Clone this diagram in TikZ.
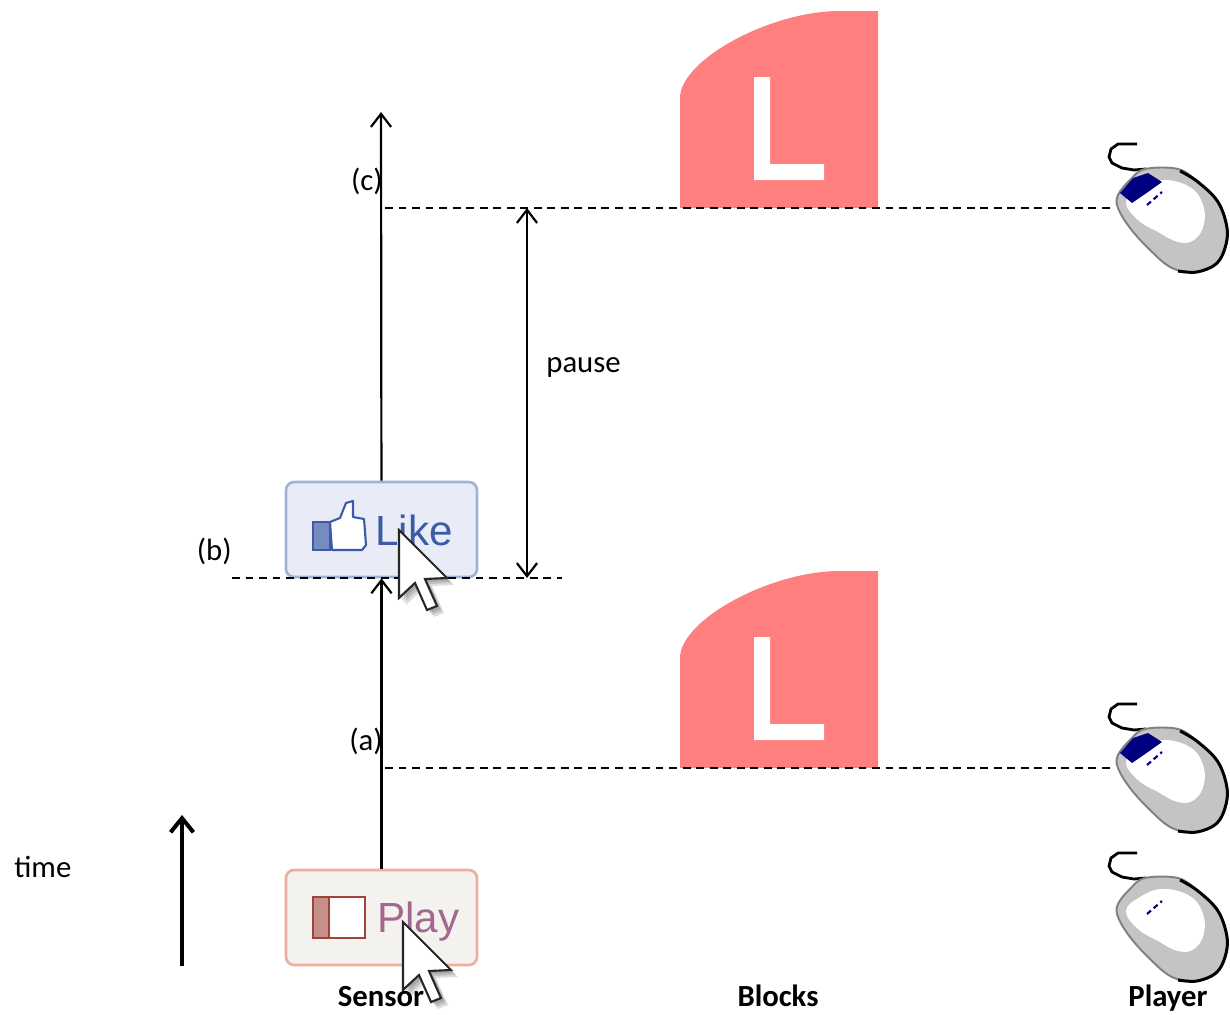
\documentclass[tikz,border=0pt]{standalone}
\usepackage{fontspec}
\setmainfont{Carlito}
\newfontfamily\pulsantefont{Liberation Sans}
\usetikzlibrary{arrows.meta, positioning}
\definecolor{bloccoRosso}{HTML}{FF7F7F}
\definecolor{likeFondo}{HTML}{E9ECF6}
\definecolor{likeBordo}{HTML}{A2B1D7}
\definecolor{likeBlu}{HTML}{3B5AA8}
\definecolor{playFondo}{HTML}{F4F2EE}
\definecolor{playBordo}{HTML}{EEAE9E}
\definecolor{playMarrone}{HTML}{A0443A}
\definecolor{playTesto}{HTML}{A2688F}
\definecolor{topoGrigio}{HTML}{C4C4C4}
\definecolor{topoBlu}{HTML}{000080}
\tikzset{
  freccia/.style={line width=1.25pt, -{Straight Barb[length=7.5pt, width=11.5pt]}},
  doppia/.style={line width=1.25pt, {Straight Barb[length=7.5pt, width=11.5pt]}-{Straight Barb[length=7.5pt, width=11.5pt]}},
  tempo/.style={line width=2.3pt, -{Straight Barb[length=8pt, width=13pt]}},
  tratteggio/.style={line width=0.9pt, dash pattern=on 4.5pt off 3.2pt},
  etichetta/.style={font=\fontsize{17.5}{20}\selectfont, inner sep=0pt},
  titolo/.style={etichetta, font=\fontsize{17.5}{20}\selectfont\bfseries},
  pulsante/.style={rounded corners=0.16cm, line width=1.5pt, minimum width=3.82cm, minimum height=1.9cm},
  testoPulsante/.style={font=\pulsantefont\fontsize{24}{26}\selectfont, inner sep=0pt, anchor=base west}
}
% blocco rosso con la L, spostato in verticale
\newcommand{\blocco}[1]{
  \begin{scope}[shift={(0,#1)}]
    \fill[bloccoRosso] (680,208) -- (680,98) .. controls (680,60) and (770,11) .. (840,11) -- (878,11) -- (878,208) -- cycle;
    \fill[white] (754,77) rectangle (770,180) (754,164) rectangle (824,180);
  \end{scope}
}
% mouse: x, y, tasto blu (1/0), nome del punto di attacco
\newcommand{\topo}[4]{
  \begin{scope}[shift={(#1,#2)}]
    \draw[line width=1.6pt, line join=round] (37,4) -- (18,4) -- (11,9) -- (9,17) -- (12,23) -- (22,28) -- (34,30) -- (46,29);
    \filldraw[fill=topoGrigio, draw=gray, line width=1.1pt] plot[smooth cycle, tension=0.6] coordinates {(18,55) (30,40) (45,29) (78,29) (98,42) (118,62) (127,88) (125,108) (116,124) (97,132) (72,128) (50,110) (30,88) (18,68)};
    \fill[white] plot[smooth cycle, tension=0.7] coordinates {(26,62) (40,48) (62,40) (88,46) (102,62) (104,84) (94,100) (78,102) (58,92) (38,80)};
    \draw[line width=1.7pt] plot[smooth, tension=0.6] coordinates {(80,31) (98,42) (118,62) (127,88) (125,108) (116,124) (97,132) (78,131)};
    \ifnum#3=1
      \fill[topoBlu] (20,53) -- (33,38) -- (48,33) -- (62,42) -- (48,52) -- (32,63) -- cycle;
    \fi
    \draw[topoBlu, line width=1.2pt, dash pattern=on 3pt off 2pt] (47,65) -- (62,52);
    \coordinate (#4) at (13,68);
  \end{scope}
}
% cursore con ombra
\newcommand{\cursore}[2]{
  \begin{scope}[shift={(#1,#2)}]
    \foreach \d in {3,5,7}
      \fill[black, opacity=0.13, shift={(\d,\d)}] (0,0) -- (0,68) -- (16,53) -- (28,80) -- (38,76) -- (26,49) -- (48,48) -- cycle;
    \filldraw[fill=white, draw=black!85, line width=1.2pt, line join=miter] (0,0) -- (0,68) -- (16,53) -- (28,80) -- (38,76) -- (26,49) -- (48,48) -- cycle;
  \end{scope}
}

\begin{document}
\begin{tikzpicture}[x=0.02cm, y=-0.02cm]
  \useasboundingbox (0,0) rectangle (1230,1014);
  % Blocchi
  \blocco{0}
  \blocco{560}
  % Pulsanti
  \node[pulsante, fill=likeFondo, draw=likeBordo] (like) at (381.5,529.5) {};
  \node[pulsante, fill=playFondo, draw=playBordo] (play) at (381.5,917.5) {};
  \filldraw[fill=likeBlu!70, draw=likeBlu, line width=1pt] (313,522) rectangle (330,550);
  \filldraw[fill=white, draw=likeBlu, line width=1.2pt, line join=round] (330,522) -- (340,518) -- (346,503) -- (353,501) -- (353,517) -- (364,519) -- (366,545) -- (362,550) -- (332,550) -- cycle;
  \node[testoPulsante, text=likeBlu] (likeTesto) at (375,545) {Like};
  \filldraw[fill=white, draw=playMarrone, line width=1.5pt] (313,897) rectangle (365,938);
  \filldraw[fill=playMarrone!60, draw=playMarrone, line width=1.5pt] (313,897) rectangle (329,938);
  \node[testoPulsante, text=playTesto] (playTesto) at (377,932) {Play};
  % Asse del sensore
  \coordinate (cima) at (381,112);
  \draw[freccia] (play) -- (like);
  \draw[freccia] (like) -- (cima);
  % Mouse
  \topo{1100}{140}{1}{topoC}
  \topo{1100}{700}{1}{topoA}
  \topo{1100}{849}{0}{topoFermo}
  % Linee tratteggiate
  \coordinate (c) at (385,208);
  \coordinate (a) at (385,768);
  \coordinate (bSx) at (232,578);
  \coordinate (bDx) at (562,578);
  \draw[tratteggio] (c) -- (topoC);
  \draw[tratteggio] (a) -- (topoA);
  \draw[tratteggio] (bSx) -- (bDx);
  % Pausa
  \coordinate (pausaSu) at (527,208);
  \coordinate (pausaGiu) at (527,578);
  \draw[doppia] (pausaSu) -- (pausaGiu);
  \node[etichetta, anchor=base west] (pausa) at (546,372) {pause};
  % Etichette
  \node[etichetta, anchor=base east] (etC) at (383,190) {(c)};
  \node[etichetta, anchor=base east] (etA) at (383,750) {(a)};
  \node[etichetta, anchor=base east] (etB) at (232,560) {(b)};
  % Tempo
  \coordinate (tempoBase) at (182,966);
  \coordinate (tempoCima) at (182,815);
  \draw[tempo] (tempoBase) -- (tempoCima);
  \node[etichetta, anchor=base west] (tempoTesto) at (14,877) {time};
  % Titoli delle colonne
  \node[titolo, anchor=base] (sensore) at (381,1006) {Sensor};
  \node[titolo, anchor=base] (blocchi) at (778,1006) {Blocks};
  \node[titolo, anchor=base] (giocatore) at (1168,1006) {Player};
  % Cursori
  \cursore{399}{530}
  \cursore{403}{922}
\end{tikzpicture}
\end{document}
